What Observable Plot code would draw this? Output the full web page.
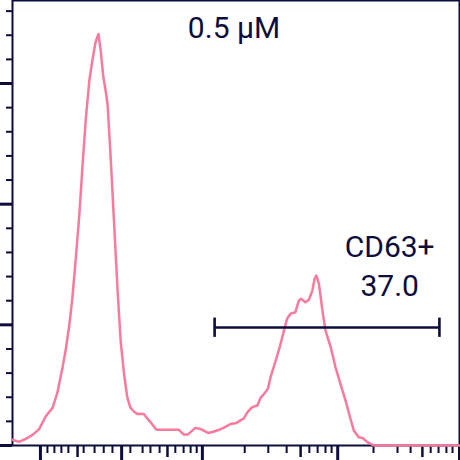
<!DOCTYPE html>
<html>
<head>
<meta charset="utf-8">
<script src="https://cdn.jsdelivr.net/npm/d3@7"></script>
<script src="https://cdn.jsdelivr.net/npm/@observablehq/plot@0.6"></script>
<style>
  body { margin: 0; background: #fff; }
  #chart svg { display: block; }
</style>
</head>
<body>
<div id="chart"></div>
<script>
// Histogram (display channel on a biexponential axis, 0–1024) vs event count
const channel = [
  0, 15, 30, 46, 61, 76, 92, 103, 115, 122,
  130, 137, 145, 153, 160, 168, 176, 183, 190, 197,
  202, 208, 214, 218, 225, 233, 241, 248, 256, 263,
  270, 278, 286, 301, 309, 316, 328, 332, 381, 392,
  402, 419, 431, 448, 458, 472, 488, 499, 513, 522,
  530, 538, 549, 561, 568, 577, 585, 591, 603, 612,
  622, 629, 637, 648, 656, 661, 671, 679, 687, 692,
  696, 702, 710, 717, 729, 740, 751, 763, 774, 782,
  793, 802, 813, 828, 1024
];
const count = [
  24, 15, 27, 44, 68, 120, 157, 220, 327, 398,
  497, 609, 775, 953, 1148, 1355, 1512, 1595, 1670, 1705,
  1637, 1529, 1463, 1409, 1189, 912, 634, 427, 290, 199,
  157, 141, 131, 131, 111, 97, 69, 65, 65, 46,
  46, 73, 68, 52, 56, 64, 77, 89, 93, 104,
  112, 137, 159, 166, 197, 215, 235, 282, 352, 407,
  477, 525, 546, 552, 601, 608, 594, 604, 642, 691,
  704, 670, 559, 477, 407, 324, 256, 186, 112, 62,
  34, 31, 14, 0, 0
];

// Axis ticks (x in display channels: -10^3, 0, 10^3, 10^4, 10^5 and sub-ticks)
const xMajorTicks = [64, 250, 435, 745, 1024];
const xMediumTicks = [149, 355, 660, 939];
const xMinorTicks = [80, 96, 112, 128, 163, 188, 209, 229,
  270, 298, 316, 337, 373, 392, 408, 422,
  532, 586, 628, 680, 699, 717, 731,
  827, 882, 912, 958, 976, 994, 1008];
const yMajorTicks = [0, 500, 1000, 1500];
const yMinorTicks = [100, 200, 300, 400, 600, 700, 800, 900,
  1100, 1200, 1300, 1400, 1600, 1700, 1800];

// Gate
const gateStart = 463;
const gateEnd = 978;
const gateLevel = 489;
const gateCapLow = 448;
const gateCapHigh = 528;
const gateName = "CD63+";
const gateValue = "37.0";
const gateLabelX = 864;

const title = "0.5 μM";

const NAVY = "#0d0d3d";
const PINK = "#f97a9c";

const data = channel.map((c, i) => ({channel: c, count: count[i]}));
const noText = () => "";

const chart = Plot.plot({
  width: 460,
  height: 460,
  marginLeft: 12,
  marginRight: 1,
  marginTop: 0,
  marginBottom: 15,
  style: {fontFamily: "Roboto, sans-serif", background: "#fff"},
  x: {domain: [0, 1024], axis: null},
  y: {domain: [0, 1844], axis: null},
  marks: [
    Plot.axisX(xMinorTicks, {tickSize: 8, strokeWidth: 2, stroke: NAVY, tickFormat: noText, label: null}),
    Plot.axisX(xMediumTicks, {tickSize: 12, strokeWidth: 2.5, stroke: NAVY, tickFormat: noText, label: null}),
    Plot.axisX(xMajorTicks, {tickSize: 15, strokeWidth: 3, stroke: NAVY, tickFormat: noText, label: null}),
    Plot.axisY(yMinorTicks, {tickSize: 6, strokeWidth: 2, stroke: NAVY, tickFormat: noText, label: null}),
    Plot.axisY(yMajorTicks, {tickSize: 12, strokeWidth: 3, stroke: NAVY, tickFormat: noText, label: null}),
    Plot.frame({stroke: NAVY, strokeWidth: 2}),
    Plot.line(data, {x: "channel", y: "count", stroke: PINK, strokeWidth: 2.5}),
    Plot.ruleY([gateLevel], {x1: gateStart, x2: gateEnd, y: d => d, stroke: NAVY, strokeWidth: 2.6}),
    Plot.ruleX([gateStart, gateEnd], {x: d => d, y1: gateCapLow, y2: gateCapHigh, stroke: NAVY, strokeWidth: 2.6}),
    Plot.text([`${gateName}\n${gateValue}`], {
      x: gateLabelX, y: gateLevel, text: d => d,
      lineAnchor: "bottom", lineHeight: 1.3, dy: -31,
      fontSize: 30, fill: NAVY, textAnchor: "middle"
    }),
    Plot.text([title], {
      frameAnchor: "top", text: d => d, lineAnchor: "top",
      dy: 16, dx: -2, fontSize: 30, fill: NAVY
    })
  ]
});
document.getElementById("chart").appendChild(chart);
</script>
</body>
</html>
